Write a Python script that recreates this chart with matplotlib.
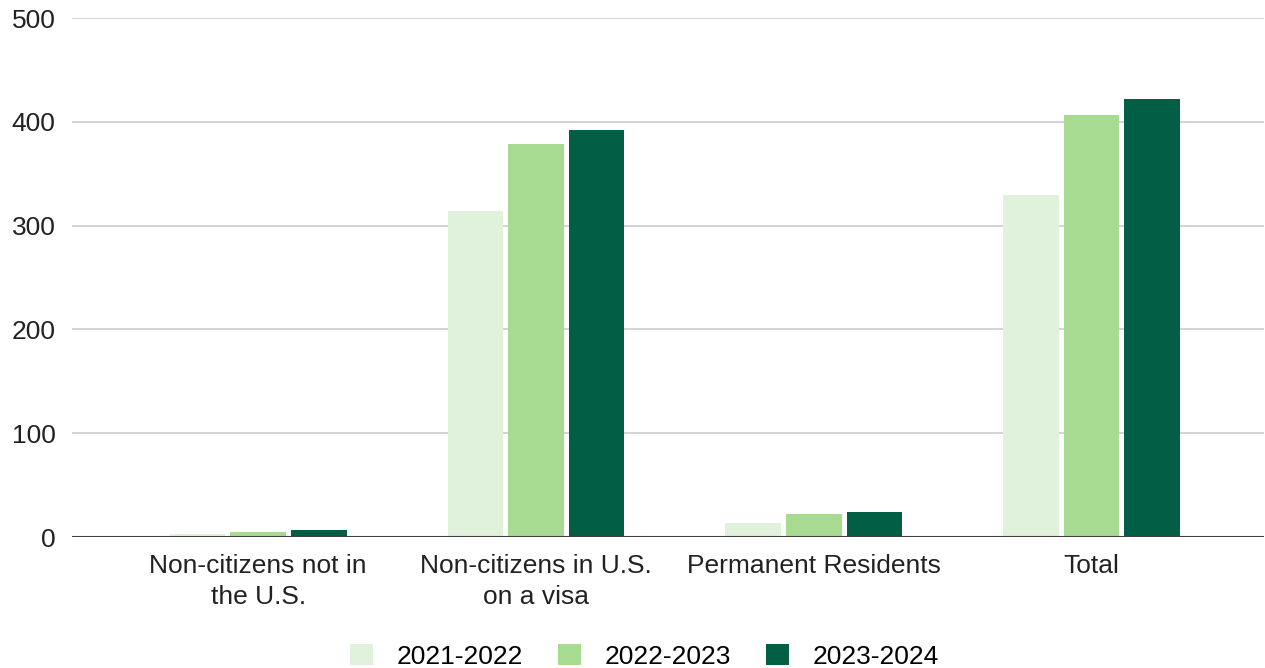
import matplotlib.pyplot as plt
import numpy as np

plt.rcParams['font.family'] = ['Liberation Sans', 'DejaVu Sans']

# data
categories = ["Non-citizens not in\nthe U.S.", "Non-citizens in U.S.\non a visa",
              "Permanent Residents", "Total"]
years = ["2021-2022", "2022-2023", "2023-2024"]
v2021 = [3, 314, 13.5, 329.5]
v2022 = [5, 378.5, 22, 406.5]
v2023 = [7, 392, 24, 422]
colors = ["#e0f2dc", "#a8db92", "#025e45"]

fig = plt.figure(figsize=(12.65, 6.68), dpi=100)
ax = fig.add_axes([0.057, 0.196, 0.942, 0.777])

x = np.arange(len(categories))
w = 0.2
step = 0.218
for i, (vals, lab) in enumerate(zip([v2021, v2022, v2023], years)):
    ax.bar(x + (i - 1) * step, vals, width=w, color=colors[i], label=lab, zorder=3)

ax.set_ylim(0, 500)
ax.set_xlim(-0.67, 3.62)
ax.set_yticks([0, 100, 200, 300, 400, 500])
ax.grid(axis='y', color='#cccccc', linewidth=1.2, zorder=0)
ax.axhline(0, color='#444444', linewidth=1.5, zorder=4)
for s in ax.spines.values():
    s.set_visible(False)
ax.tick_params(axis='both', length=0, labelsize=19, colors='#222222')
ax.tick_params(axis='y', pad=12)
ax.tick_params(axis='x', pad=12)
ax.set_xticks(x)
ax.set_xticklabels(categories, linespacing=1.4)

leg = fig.legend(loc='lower center', bbox_to_anchor=(0.5095, -0.037), ncol=3,
                 frameon=False, fontsize=19, handlelength=0.85, handleheight=0.85,
                 columnspacing=1.35, handletextpad=0.9)

fig.savefig("out.png", dpi=100)
